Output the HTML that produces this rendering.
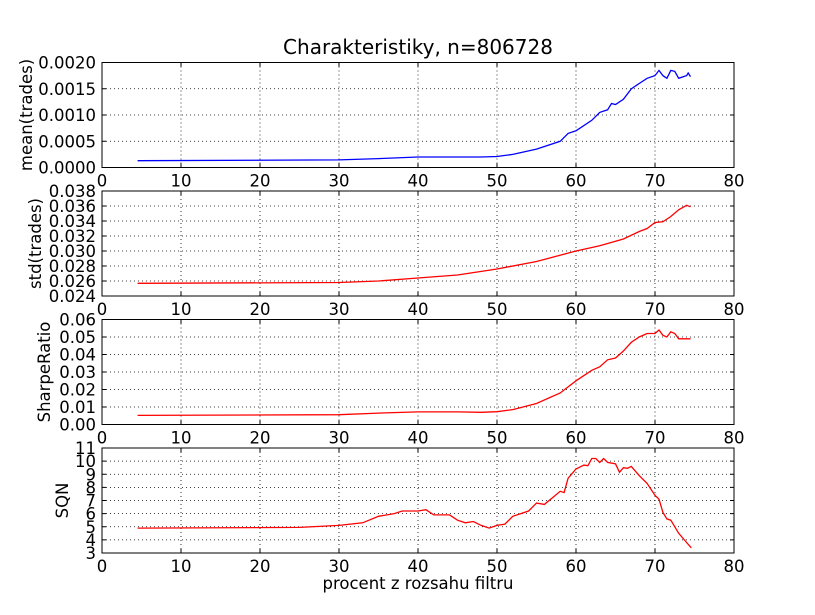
<!DOCTYPE html>
<html><head><meta charset="utf-8"><style>body{margin:0;background:#fff}svg{display:block}text{font-family:"DejaVu Sans","Liberation Sans",sans-serif;fill:#000}</style></head>
<body><svg id="s" width="815" height="615" xmlns="http://www.w3.org/2000/svg"></svg>
<script>
const s=document.getElementById('s');let h='';
const X0=102,X1=734,xs=v=>X0+(X1-X0)*v/80;
h+=`<text x="418" y="54" font-size="20" text-anchor="middle">Charakteristiky, n=806728</text>`;
const panels=[
{top:62.5,lx:26,min:0,max:0.002,ticks:[0,0.0005,0.001,0.0015,0.002],fmt:v=>v.toFixed(4),lab:'mean(trades)',col:'#0000ff',
d:[[4.5,.00013],[30,.000145],[35,.00017],[40,.0002],[45,.0002],[48,.0002],[50,.00021],[52,.00025],[55,.00035],[58,.0005],[59,.00065],[60,.0007],[62,.0009],[63,.00105],[64,.0011],[64.5,.00122],[65,.0012],[66,.0013],[67,.0015],[68,.0016],[69,.0017],[70,.00175],[70.5,.00185],[71,.00175],[71.5,.0017],[72,.00185],[72.5,.00183],[73,.0017],[74,.00175],[74.2,.0018],[74.5,.00173]]},
{top:191,lx:35,min:0.024,max:0.038,ticks:[.024,.026,.028,.03,.032,.034,.036,.038],fmt:v=>v.toFixed(3),lab:'std(trades)',col:'#ff0000',
d:[[4.5,.0257],[30,.0258],[35,.0260],[40,.0264],[45,.0268],[50,.0276],[55,.0286],[60,.0300],[63,.0307],[66,.0316],[68,.0326],[69,.0330],[70,.0338],[71,.0339],[72,.0346],[73,.0355],[74,.0361],[74.5,.0359]]},
{top:319.5,lx:44,min:0,max:0.06,ticks:[0,.01,.02,.03,.04,.05,.06],fmt:v=>v.toFixed(2),lab:'SharpeRatio',col:'#ff0000',
d:[[4.5,.0052],[30,.0056],[35,.0065],[40,.0072],[45,.0072],[48,.007],[50,.0073],[52,.0085],[55,.012],[58,.018],[59,.0215],[60,.025],[62,.031],[63,.033],[64,.037],[65,.038],[66,.042],[67,.047],[68,.05],[69,.052],[70,.052],[70.5,.054],[71,.051],[71.5,.05],[72,.053],[72.5,.052],[73,.049],[74,.049],[74.5,.049]]},
{top:448,lx:62,min:3,max:11,ticks:[3,4,5,6,7,8,9,10,11],fmt:v=>String(v),lab:'SQN',col:'#ff0000',
d:[[4.5,4.9],[25,4.95],[30,5.1],[33,5.3],[35,5.8],[37,6.0],[38,6.2],[40,6.2],[41,6.3],[42,5.9],[44,5.9],[45,5.5],[46,5.3],[47,5.4],[48,5.1],[49,4.9],[50,5.1],[51,5.2],[52,5.8],[54,6.2],[55,6.8],[56,6.7],[57,7.2],[58,7.7],[58.5,7.6],[59,8.7],[60,9.4],[61,9.7],[61.5,9.65],[62,10.2],[62.5,10.2],[63,9.9],[63.5,10.2],[64,9.9],[65,9.8],[65.5,9.15],[66,9.5],[66.5,9.45],[67,9.6],[68,8.9],[69,8.3],[70,7.4],[70.5,7.1],[71,6.1],[71.5,5.6],[72,5.5],[73,4.5],[74,3.8],[74.6,3.4]]}];
const H=105;
panels.forEach(p=>{
const ys=v=>p.top+H-(v-p.min)/(p.max-p.min)*H;
for(let i=1;i<8;i++){const x=xs(i*10);h+=`<line x1="${x}" x2="${x}" y1="${p.top}" y2="${p.top+H}" stroke="#000" stroke-width="0.8" stroke-dasharray="1,3"/>`;}
for(let i=0;i<=8;i++){const x=xs(i*10);h+=`<line x1="${x}" x2="${x}" y1="${p.top}" y2="${p.top+4}" stroke="#000"/><line x1="${x}" x2="${x}" y1="${p.top+H-4}" y2="${p.top+H}" stroke="#000"/>`;}
p.ticks.forEach((t,i)=>{const y=ys(t);if(i>0&&i<p.ticks.length-1)h+=`<line x1="${X0}" x2="${X1}" y1="${y}" y2="${y}" stroke="#000" stroke-width="0.8" stroke-dasharray="1,3"/>`;
h+=`<line x1="${X0}" x2="${X0+4}" y1="${y}" y2="${y}" stroke="#000"/><line x1="${X1-4}" x2="${X1}" y1="${y}" y2="${y}" stroke="#000"/>`;
h+=`<text x="96" y="${y+6}" font-size="16.5" text-anchor="end">${p.fmt(t)}</text>`;});
for(let i=0;i<=8;i++)h+=`<text x="${xs(i*10)}" y="${p.top+H+19}" font-size="16.5" text-anchor="middle">${i*10}</text>`;
h+=`<polyline fill="none" stroke="${p.col}" stroke-width="1.3" points="${p.d.map(a=>xs(a[0]).toFixed(1)+','+ys(a[1]).toFixed(1)).join(' ')}"/>`;
h+=`<rect x="${X0}" y="${p.top}" width="${X1-X0}" height="${H}" fill="none" stroke="#000" stroke-width="1"/>`;
h+=`<text transform="translate(${p.lx+6},${p.top+H/2}) rotate(-90)" font-size="16.5" text-anchor="middle">${p.lab}</text>`;
});
h+=`<text x="418" y="589" font-size="16.5" text-anchor="middle">procent z rozsahu filtru</text>`;
s.innerHTML=h;
</script></body></html>
